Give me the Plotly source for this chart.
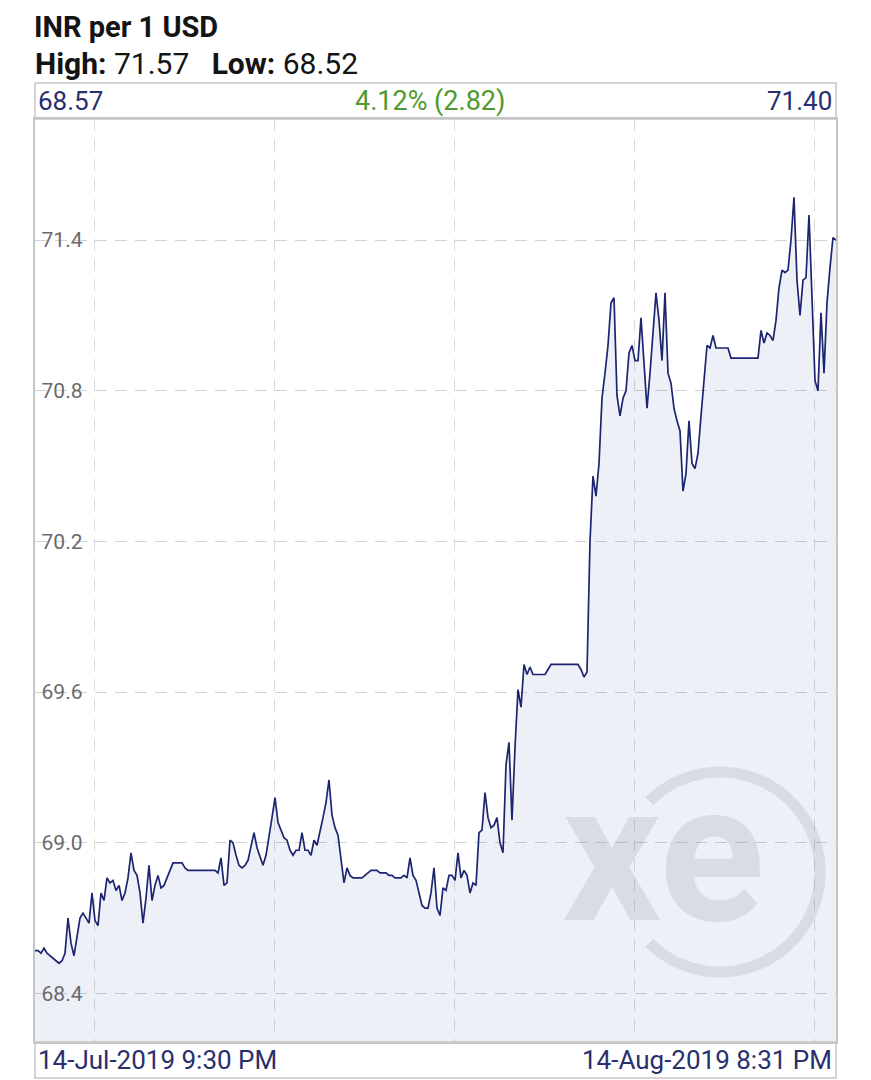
import numpy as np
import pandas as pd
import plotly.graph_objects as go

# INR je 1 USD, im 3-Pixel-Raster (268 Stützstellen)
rates = [
    68.57, 68.57, 68.56, 68.58, 68.56, 68.55, 68.54, 68.53, 68.52, 68.53,
    68.56, 68.70, 68.60, 68.55, 68.63, 68.70, 68.72, 68.70, 68.68, 68.80,
    68.69, 68.67, 68.80, 68.77, 68.86, 68.84, 68.85, 68.81, 68.83, 68.77,
    68.80, 68.86, 68.96, 68.89, 68.87, 68.80, 68.68, 68.78, 68.91, 68.77,
    68.83, 68.87, 68.82, 68.83, 68.86, 68.89, 68.92, 68.92, 68.92, 68.92,
    68.90, 68.89, 68.89, 68.89, 68.89, 68.89, 68.89, 68.89, 68.89, 68.89,
    68.89, 68.88, 68.94, 68.83, 68.84, 69.01, 69.00, 68.95, 68.91, 68.90,
    68.91, 68.93, 68.98, 69.04, 68.98, 68.94, 68.91, 68.95, 69.02, 69.10,
    69.18, 69.08, 69.05, 69.02, 69.01, 68.97, 68.95, 68.97, 68.97, 69.04,
    68.97, 68.97, 68.95, 69.01, 68.99, 69.04, 69.10, 69.16, 69.25, 69.11,
    69.06, 69.03, 68.94, 68.84, 68.90, 68.87, 68.86, 68.86, 68.86, 68.86,
    68.87, 68.88, 68.89, 68.89, 68.89, 68.88, 68.88, 68.88, 68.87, 68.87,
    68.86, 68.86, 68.86, 68.87, 68.86, 68.94, 68.87, 68.85, 68.80, 68.75,
    68.74, 68.74, 68.80, 68.90, 68.74, 68.71, 68.82, 68.81, 68.87, 68.87,
    68.85, 68.96, 68.86, 68.89, 68.87, 68.80, 68.84, 68.83, 69.04, 69.05,
    69.20, 69.10, 69.06, 69.07, 69.10, 69.00, 68.96, 69.31, 69.40, 69.09,
    69.38, 69.61, 69.54, 69.71, 69.67, 69.70, 69.67, 69.67, 69.67, 69.67,
    69.67, 69.69, 69.71, 69.71, 69.71, 69.71, 69.71, 69.71, 69.71, 69.71,
    69.71, 69.71, 69.69, 69.66, 69.68, 70.20, 70.46, 70.38, 70.51, 70.77,
    70.87, 70.98, 71.15, 71.17, 70.78, 70.70, 70.77, 70.80, 70.95, 70.98,
    70.92, 70.92, 71.09, 70.92, 70.73, 70.87, 71.04, 71.19, 71.08, 70.92,
    71.19, 70.87, 70.83, 70.73, 70.68, 70.64, 70.40, 70.47, 70.68, 70.51,
    70.49, 70.55, 70.70, 70.83, 70.98, 70.97, 71.02, 70.97, 70.97, 70.97,
    70.97, 70.97, 70.93, 70.93, 70.93, 70.93, 70.93, 70.93, 70.93, 70.93,
    70.93, 70.93, 71.04, 70.99, 71.03, 71.02, 71.00, 71.08, 71.21, 71.28,
    71.27, 71.28, 71.40, 71.57, 71.24, 71.10, 71.24, 71.25, 71.50, 71.16,
    70.84, 70.80, 71.11, 70.87, 71.15, 71.29, 71.41, 71.40,
]
zeit_von = "2019-07-14 16:00"
zeit_bis = "2019-08-14 20:31"
y_ticks = [68.4, 69.0, 69.6, 70.2, 70.8, 71.4]
wochen = ["2019-07-17", "2019-07-24", "2019-07-31", "2019-08-07", "2019-08-14"]

titel = "INR per 1 USD"
hoch, tief = 71.57, 68.52
kurs_start, kurs_ende = 68.57, 71.40
aenderung_pct, aenderung_abs = 4.12, 2.82
text_links = "14-Jul-2019 9:30 PM"
text_rechts = "14-Aug-2019 8:31 PM"

NAVY = "#1c2570"
TEXT_NAVY = "#2a2f6e"
GRUEN = "#4f9a2c"
RAHMEN = "#c6c6c6"
SCHRIFT = "Roboto"

# Seite hat 8px Body-Rand, Figur daher etwas kleiner
RAND = 8
W, H = 863, 1072
L, R, T, B = 27, 35, 111, 38


def px(X):
    # Seiten-x (Pixel) -> paper
    return (X - RAND - L) / (W - L - R)


def py(Y):
    # Seiten-y (Pixel) -> paper
    return (H - B - (Y - RAND)) / (H - T - B)


zeiten = pd.date_range(zeit_von, zeit_bis, periods=len(rates))

fig = go.Figure(
    go.Scatter(
        x=zeiten,
        y=rates,
        mode="lines",
        line=dict(color=NAVY, width=1.7),
        fill="tozeroy",
        fillcolor="rgba(30,60,150,0.075)",
        hoverinfo="skip",
    )
)

fig.update_xaxes(
    type="date",
    range=[zeit_von, zeit_bis],
    tickvals=wochen,
    showticklabels=False,
    ticks="",
    showgrid=True,
    gridcolor="#dadada",
    griddash="12px,8px",
    gridwidth=1,
    zeroline=False,
    showline=True,
    mirror=True,
    linecolor=RAHMEN,
    linewidth=1.5,
)
fig.update_yaxes(
    range=[68.2065, 71.882],
    tickvals=y_ticks,
    tickformat=".1f",
    ticklabelposition="inside",
    ticklabelstandoff=8,
    tickfont=dict(size=21, color="#6a6a6a"),
    ticks="",
    showgrid=True,
    gridcolor="#d2d2d2",
    griddash="12px,8px",
    gridwidth=1,
    zeroline=False,
    showline=True,
    mirror=True,
    linecolor=RAHMEN,
    linewidth=1.5,
)

# Wasserzeichen-Bogen um das "xe"
winkel = np.radians(np.linspace(135, -135, 80))
bx = px(720) + (100 / (W - L - R)) * np.cos(winkel)
by = py(872) + (100 / (H - T - B)) * np.sin(winkel)
bogen = "M " + " L ".join(f"{a:.5f},{b:.5f}" for a, b in zip(bx, by))

fig.update_layout(
    width=W,
    height=H,
    margin=dict(l=L, r=R, t=T, b=B),
    paper_bgcolor="white",
    plot_bgcolor="white",
    showlegend=False,
    font=dict(family=SCHRIFT),
    shapes=[
        dict(type="rect", xref="paper", yref="paper", x0=0, x1=1,
             y0=py(119), y1=py(83), line=dict(color=RAHMEN, width=1.5)),
        dict(type="rect", xref="paper", yref="paper", x0=0, x1=1,
             y0=py(1078), y1=py(1042), line=dict(color=RAHMEN, width=1.5)),
        dict(type="path", xref="paper", yref="paper", path=bogen,
             line=dict(color="rgba(150,158,175,0.25)", width=11), layer="above"),
    ],
    annotations=[
        dict(text=f"<b>{titel}</b>", x=px(33), y=py(27), xref="paper", yref="paper",
             xanchor="left", yanchor="middle", showarrow=False, borderpad=0,
             font=dict(size=29, color="#141414")),
        dict(text=f"<b>High:</b> {hoch:.2f} &nbsp;&nbsp;<b>Low:</b> {tief:.2f}",
             x=px(33), y=py(64), xref="paper", yref="paper",
             xanchor="left", yanchor="middle", showarrow=False,
             font=dict(size=30, color="#141414")),
        dict(text=f"{kurs_start:.2f}", x=px(36), y=py(101), xref="paper", yref="paper",
             xanchor="left", yanchor="middle", showarrow=False,
             font=dict(size=26, color=TEXT_NAVY)),
        dict(text=f"{aenderung_pct:.2f}% ({aenderung_abs:.2f})", x=px(430), y=py(101),
             xref="paper", yref="paper", xanchor="center", yanchor="middle",
             showarrow=False, font=dict(size=27, color=GRUEN)),
        dict(text=f"{kurs_ende:.2f}", x=px(834), y=py(101), xref="paper", yref="paper",
             xanchor="right", yanchor="middle", showarrow=False,
             font=dict(size=26, color=TEXT_NAVY)),
        dict(text=text_links, x=px(36), y=py(1060), xref="paper", yref="paper",
             xanchor="left", yanchor="middle", showarrow=False,
             font=dict(size=26, color=TEXT_NAVY)),
        dict(text=text_rechts, x=px(834), y=py(1060), xref="paper", yref="paper",
             xanchor="right", yanchor="middle", showarrow=False,
             font=dict(size=26, color=TEXT_NAVY)),
        dict(text="<b>xe</b>", x=px(663), y=py(853), xref="paper", yref="paper",
             xanchor="center", yanchor="middle", showarrow=False,
             font=dict(size=195, color="rgba(150,158,175,0.25)")),
    ],
)

fig.write_html("out.html", config={"displayModeBar": False})
